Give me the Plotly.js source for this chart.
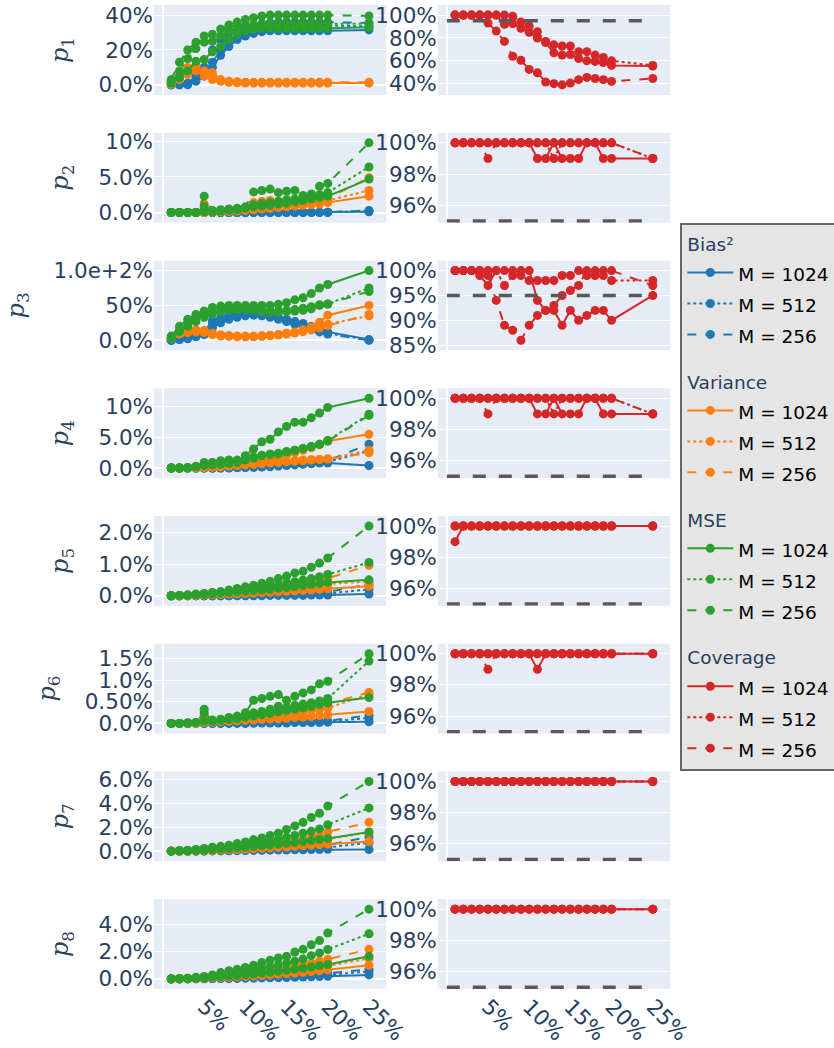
<!DOCTYPE html>
<html>
<head>
<meta charset="utf-8">
<script src="https://cdn.plot.ly/plotly-3.0.1.min.js"></script>
<style>html,body{margin:0;padding:0;background:#fff}</style>
</head>
<body>
<div id="chart" style="width:834px;height:1048px"></div>
<script>
// Share of the sample (x axis), shared by every panel
const share = [0.01,0.02,0.03,0.04,0.05,0.06,0.07,0.08,0.09,0.10,0.11,0.12,0.13,0.14,0.15,0.16,0.17,0.18,0.19,0.20,0.25];
const mLabels = ['M = 1024', 'M = 512', 'M = 256'];

// Each block: rows are M = 1024, 512, 256; values in percent
const p1_bias = [
  [0,0,0,2,5,10,17,22,26,28,29.5,30.5,31,31,31,31,31,31,31,31,31.5],
  [0,0,0.5,3,8,13,20,25,28,30.5,32,33,33.5,33.8,34,34,34,34,34,34,33.5],
  [0,0,1,5,10,20,26,30,32,33.5,34.5,35,35.5,35.8,36,36,36,36,36,36,35.5]];
const p1_var = [
  [0.5,3,6,8,5,3,2,1.5,1.2,1,1,1,1,1,1,1,1,1,1,1,1],
  [0.5,4,8,9,7,5,2.5,1.8,1.5,1.3,1.2,1.2,1.2,1.2,1.2,1.2,1.2,1.2,1.2,1.2,1.2],
  [1,5,10,11,8,7,3,2,1.7,1.5,1.5,1.5,1.5,1.5,1.5,1.5,1.5,1.5,1.5,1.5,1.5]];
const p1_mse = [
  [1,4,8,13.5,14.5,19,22,26,29,31,32,32.5,32.5,32.5,32.5,32.5,32.5,32.5,32.5,32.5,33],
  [2,8,15,20.8,24.5,25,28,31,33,34,34.5,35,35.2,35.3,35.3,35.3,35.3,35.3,35.3,35.3,35],
  [3,13,20,24.5,28,29,32,34.3,36,37.5,38.5,39.5,40,40,40,40,40,40,40,40,39.5]];
const p1_cov = [
  [100,100,100,100,100,100,92,92.5,88.5,85,80,76,67,65,65.5,62,60,59.5,58.5,56,55.5],
  [100,100,100,100,100,100,100,99,94,90.5,85.5,77,74,73,73,68,68,65,63,60,56],
  [100,100,100,100,93,86,77,64,60.5,52.5,49.5,41.5,40,39,40.5,43.5,45.5,44.5,43.5,42,44.5]];

const p2_bias = [
  [0,0,0,0,0,0,0,0,0,0,0,0,0,0,0,0,0,0,0,0,0.1],
  [0,0,0,0,0,0,0,0,0,0,0,0,0,0,0,0,0.02,0.03,0.04,0.05,0.2],
  [0,0,0,0,0.05,0,0,0,0,0,0.05,0.05,0.05,0.05,0.05,0.05,0.05,0.05,0.05,0.05,0.3]];
const p2_var = [
  [0,0,0,0,0,0.05,0.1,0.15,0.2,0.3,0.4,0.5,0.6,0.7,0.8,0.9,1.0,1.1,1.2,1.4,2.3],
  [0,0,0,0,0.2,0.1,0.15,0.2,0.3,0.4,0.6,0.7,0.8,0.9,1.0,1.1,1.3,1.4,1.5,1.7,3.1],
  [0,0,0,0,1.2,0.1,0.2,0.3,0.4,0.5,1.4,1.6,1.7,1.3,1.5,1.6,1.4,1.5,1.9,2.0,4.9]];
const p2_mse = [
  [0,0,0,0,0.1,0.15,0.2,0.3,0.4,0.6,0.8,0.9,1.0,1.2,1.3,1.5,1.7,1.9,2.1,2.3,4.7],
  [0,0,0,0,0.9,0.2,0.3,0.4,0.5,0.7,1.1,1.3,1.4,1.6,1.8,1.9,2.0,2.2,2.5,2.8,6.4],
  [0,0,0,0,2.3,0.3,0.4,0.5,0.6,0.8,2.9,3.1,3.3,2.8,3.0,3.1,2.4,2.6,3.7,4.1,9.8]];
const p2_cov = [
  [100,100,100,100,100,100,100,100,100,100,99,99,100,99,99,99,100,100,99,99,99],
  [100,100,100,100,100,100,100,100,100,100,100,100,99,100,100,100,100,100,100,100,99],
  [100,100,100,100,99,100,100,100,100,100,100,100,100,100,100,100,100,100,100,100,99]];

const p3_bias = [
  [0,1,2,5,8,18,25,30,33,35,36,36,35,33,30,27,24,20,16,12,1],
  [0,1,3,6,10,25,30,35,37,38,38.5,37,35,32,28,25,22,18,14,10,0.5],
  [0,2,4,8,12,28,32,37,38,38,37,35,33,30,27,23,20,15,12,9,0]];
const p3_var = [
  [4,12,14,15,14,10,8,7,6,6,6,6.5,7,8,10,12,15,19,26,36,50],
  [3,10,12,13,12,9,7,6,5.5,5.5,5.5,6,7,8,9.5,11,13,16,19,23,35],
  [3,9,11,12,11,8,6,5.5,5,5,5,5.5,6.5,7.5,9,10.5,12.5,15,18,21,37]];
const p3_mse = [
  [6,20,30,37,42,47,49,50,50,50,50,50,50,51.5,54,58,61,67,75,80,100],
  [4,15,25,33,38,41,44,45,45,45,44,43,42,42,43,44,46,48,51,52,75],
  [3,12,20,27,33,38,41,43,44,44,43,41,40,40,41,42,43,45,50,52,70]];
const p3_cov = [
  [100,100,100,99,97,100,100,100,100,100,94,92,92,89,92,90,91,92,92,90,95],
  [100,100,100,100,100,100,97,99,99,98,98,98,98,99,99,100,99,99,99,98,98],
  [100,100,100,100,99,94,89,88,86,89,91,92,93,95,96,97,100,100,100,100,97]];

const p4_bias = [
  [0,0,0,0,0,0,0,0,0.05,0.1,0.1,0.15,0.2,0.3,0.4,0.5,0.6,0.7,0.8,0.8,0.4],
  [0,0,0,0,0,0,0.02,0.05,0.08,0.1,0.15,0.2,0.3,0.4,0.5,0.6,0.7,0.8,0.9,1.0,2.8],
  [0,0,0,0,0,0,0.03,0.05,0.1,0.15,0.2,0.3,0.4,0.5,0.6,0.7,0.8,0.9,1.0,1.2,3.9]];
const p4_var = [
  [0,0,0.02,0.05,0.1,0.15,0.25,0.35,0.5,0.7,0.9,1.1,1.4,1.7,2.1,2.5,2.9,3.3,3.8,4.4,5.5],
  [0,0,0.02,0.05,0.1,0.15,0.2,0.3,0.4,0.5,0.6,0.7,0.8,0.9,1.0,1.1,1.2,1.3,1.4,1.5,2.9],
  [0,0,0.02,0.05,0.1,0.15,0.2,0.3,0.4,0.5,0.65,0.8,0.9,1.0,1.1,1.2,1.3,1.35,1.4,1.45,2.5]];
const p4_mse = [
  [0,0,0.05,0.2,0.4,0.5,0.6,0.7,0.9,2.0,3.1,4.3,4.7,5.9,6.8,7.5,7.5,8.2,9.0,9.9,11.4],
  [0,0,0.05,0.2,0.5,0.8,0.9,1.0,1.0,1.3,1.6,2.1,2.3,2.3,2.7,2.9,3.2,3.5,3.9,4.5,8.8],
  [0,0,0.05,0.3,0.9,0.9,1.2,1.3,1.3,1.5,1.8,2.0,2.2,2.4,2.6,2.9,3.2,3.5,3.9,4.4,8.6]];
const p4_cov = [
  [100,100,100,100,100,100,100,100,100,100,99,99,100,99,99,99,100,100,99,99,99],
  [100,100,100,100,100,100,100,100,100,100,100,100,99,100,100,100,100,100,100,100,99],
  [100,100,100,100,99,100,100,100,100,100,100,100,100,100,100,100,100,100,100,100,99]];

const p5_bias = [
  [0,0,0,0,0,0,0,0,0,0,0,0,0.01,0.01,0.01,0.01,0.01,0.02,0.02,0.02,0.05],
  [0,0,0,0,0,0,0,0,0.01,0.01,0.01,0.02,0.02,0.03,0.03,0.04,0.05,0.05,0.06,0.07,0.2],
  [0,0,0,0,0,0,0.01,0.01,0.01,0.02,0.02,0.03,0.04,0.05,0.06,0.07,0.08,0.09,0.1,0.12,0.36]];
const p5_var = [
  [0,0,0,0.01,0.02,0.03,0.04,0.05,0.06,0.07,0.08,0.1,0.11,0.12,0.14,0.15,0.17,0.18,0.2,0.22,0.3],
  [0,0,0.01,0.02,0.03,0.04,0.05,0.07,0.09,0.11,0.13,0.15,0.17,0.2,0.22,0.25,0.28,0.31,0.34,0.37,0.45],
  [0,0,0.01,0.02,0.03,0.05,0.07,0.09,0.12,0.15,0.18,0.21,0.25,0.28,0.32,0.36,0.4,0.45,0.5,0.55,0.96]];
const p5_mse = [
  [0,0.01,0.02,0.03,0.04,0.06,0.08,0.1,0.12,0.14,0.16,0.18,0.2,0.23,0.26,0.29,0.32,0.35,0.38,0.42,0.5],
  [0,0.01,0.02,0.04,0.06,0.08,0.1,0.13,0.16,0.2,0.23,0.27,0.31,0.35,0.4,0.44,0.49,0.54,0.6,0.67,1.05],
  [0,0.01,0.02,0.05,0.07,0.1,0.13,0.18,0.23,0.28,0.33,0.39,0.46,0.54,0.62,0.72,0.77,0.9,1.03,1.19,2.2]];
const p5_cov = [
  [99,100,100,100,100,100,100,100,100,100,100,100,100,100,100,100,100,100,100,100,100],
  [100,100,100,100,100,100,100,100,100,100,100,100,100,100,100,100,100,100,100,100,100],
  [100,100,100,100,100,100,100,100,100,100,100,100,100,100,100,100,100,100,100,100,100]];

const p6_bias = [
  [0,0,0,0,0,0,0,0,0,0,0.01,0.01,0.01,0.01,0.01,0.02,0.02,0.02,0.02,0.03,0.04],
  [0,0,0,0,0,0,0,0.01,0.01,0.01,0.01,0.02,0.02,0.02,0.03,0.03,0.03,0.04,0.04,0.04,0.13],
  [0,0,0,0,0,0.01,0.01,0.01,0.02,0.02,0.02,0.03,0.03,0.03,0.04,0.04,0.05,0.05,0.05,0.06,0.19]];
const p6_var = [
  [0,0,0,0.01,0.02,0.03,0.04,0.05,0.06,0.07,0.08,0.09,0.1,0.11,0.12,0.14,0.15,0.16,0.18,0.2,0.28],
  [0,0,0,0.01,0.1,0.03,0.05,0.06,0.08,0.1,0.13,0.15,0.17,0.2,0.22,0.24,0.27,0.3,0.33,0.36,0.68],
  [0,0,0,0.01,0.19,0.04,0.06,0.08,0.1,0.13,0.22,0.25,0.27,0.3,0.28,0.32,0.35,0.38,0.42,0.46,0.72]];
const p6_mse = [
  [0,0,0.01,0.02,0.05,0.05,0.07,0.09,0.11,0.14,0.17,0.2,0.23,0.27,0.3,0.33,0.36,0.4,0.44,0.48,0.6],
  [0,0,0.01,0.02,0.25,0.06,0.08,0.1,0.13,0.17,0.25,0.28,0.33,0.4,0.37,0.42,0.45,0.48,0.52,0.58,1.45],
  [0,0,0.01,0.02,0.33,0.08,0.1,0.14,0.17,0.25,0.54,0.58,0.63,0.67,0.54,0.63,0.71,0.78,0.92,0.98,1.62]];
const p6_cov = [
  [100,100,100,100,100,100,100,100,100,100,99,100,100,100,100,100,100,100,100,100,100],
  [100,100,100,100,100,100,100,100,100,100,100,100,100,100,100,100,100,100,100,100,100],
  [100,100,100,100,99,100,100,100,100,100,100,100,100,100,100,100,100,100,100,100,100]];

const p7_bias = [
  [0,0,0,0.01,0.01,0.02,0.02,0.03,0.04,0.05,0.06,0.07,0.08,0.09,0.1,0.11,0.12,0.13,0.14,0.15,0.14],
  [0,0,0.01,0.01,0.02,0.03,0.04,0.05,0.06,0.08,0.1,0.12,0.14,0.16,0.18,0.2,0.23,0.26,0.29,0.32,0.7],
  [0,0,0.01,0.02,0.03,0.04,0.05,0.07,0.09,0.11,0.13,0.16,0.19,0.22,0.26,0.3,0.34,0.38,0.42,0.5,1.2]];
const p7_var = [
  [0,0.01,0.02,0.03,0.05,0.07,0.09,0.11,0.14,0.17,0.2,0.23,0.27,0.31,0.35,0.4,0.45,0.5,0.55,0.6,0.8],
  [0,0.01,0.03,0.05,0.07,0.1,0.13,0.16,0.2,0.24,0.29,0.34,0.4,0.46,0.53,0.6,0.68,0.76,0.85,1.0,1.55],
  [0,0.02,0.04,0.07,0.1,0.14,0.18,0.23,0.29,0.35,0.42,0.5,0.58,0.67,0.77,0.88,1.0,1.15,1.3,1.6,2.4]];
const p7_mse = [
  [0,0.02,0.04,0.07,0.1,0.14,0.18,0.22,0.27,0.32,0.38,0.44,0.5,0.57,0.65,0.72,0.8,0.88,0.97,1.06,1.6],
  [0,0.03,0.06,0.1,0.16,0.22,0.28,0.35,0.43,0.52,0.62,0.73,0.85,1.0,1.15,1.3,1.5,1.65,1.85,2.2,3.6],
  [0,0.04,0.08,0.14,0.22,0.33,0.4,0.5,0.63,0.77,0.96,1.1,1.3,1.5,1.8,2.1,2.4,2.8,3.15,3.75,5.8]];
const p7_cov = [
  [100,100,100,100,100,100,100,100,100,100,100,100,100,100,100,100,100,100,100,100,100],
  [100,100,100,100,100,100,100,100,100,100,100,100,100,100,100,100,100,100,100,100,100],
  [100,100,100,100,100,100,100,100,100,100,100,100,100,100,100,100,100,100,100,100,100]];

const p8_bias = [
  [0,0,0,0.01,0.01,0.02,0.02,0.03,0.04,0.05,0.06,0.07,0.08,0.09,0.1,0.12,0.13,0.15,0.17,0.19,0.29],
  [0,0,0.01,0.01,0.02,0.03,0.04,0.05,0.06,0.07,0.08,0.1,0.12,0.14,0.16,0.18,0.2,0.23,0.26,0.3,0.53],
  [0,0,0.01,0.02,0.03,0.04,0.05,0.06,0.08,0.1,0.12,0.14,0.16,0.19,0.22,0.25,0.28,0.31,0.35,0.4,0.7]];
const p8_var = [
  [0,0.01,0.02,0.03,0.05,0.07,0.09,0.12,0.15,0.18,0.21,0.25,0.29,0.33,0.38,0.43,0.48,0.54,0.6,0.66,1.0],
  [0,0.01,0.02,0.04,0.06,0.09,0.12,0.16,0.2,0.25,0.3,0.35,0.41,0.47,0.54,0.61,0.69,0.77,0.86,0.95,1.5],
  [0,0.01,0.03,0.06,0.09,0.13,0.18,0.24,0.3,0.37,0.45,0.53,0.62,0.71,0.81,0.92,1.03,1.15,1.3,1.44,2.16]];
const p8_mse = [
  [0,0.01,0.03,0.05,0.08,0.12,0.16,0.2,0.25,0.3,0.36,0.42,0.48,0.55,0.62,0.7,0.78,0.87,0.96,1.05,1.65],
  [0,0.02,0.04,0.08,0.12,0.2,0.3,0.38,0.46,0.56,0.67,0.78,0.9,1.02,1.15,1.3,1.45,1.7,1.9,2.15,3.3],
  [0,0.02,0.05,0.12,0.17,0.29,0.46,0.6,0.7,0.84,1.0,1.2,1.37,1.53,1.65,1.97,2.16,2.5,2.8,3.36,5.1]];
const p8_cov = [
  [100,100,100,100,100,100,100,100,100,100,100,100,100,100,100,100,100,100,100,100,100],
  [100,100,100,100,100,100,100,100,100,100,100,100,100,100,100,100,100,100,100,100,100],
  [100,100,100,100,100,100,100,100,100,100,100,100,100,100,100,100,100,100,100,100,100]];

const nominalCoverage = 95;   // target level, drawn as a dashed reference line

// Lookup table: per parameter, the blocks in drawing order
const panels = [
  [p1_bias, p1_var, p1_mse, p1_cov],
  [p2_bias, p2_var, p2_mse, p2_cov],
  [p3_bias, p3_var, p3_mse, p3_cov],
  [p4_bias, p4_var, p4_mse, p4_cov],
  [p5_bias, p5_var, p5_mse, p5_cov],
  [p6_bias, p6_var, p6_mse, p6_cov],
  [p7_bias, p7_var, p7_mse, p7_cov],
  [p8_bias, p8_var, p8_mse, p8_cov]
];
const metrics = [
  {group: 'bias', title: 'Bias²', color: '#1f77b4'},
  {group: 'variance', title: 'Variance', color: '#ff7f0e'},
  {group: 'mse', title: 'MSE', color: '#2ca02c'},
  {group: 'coverage', title: 'Coverage', color: '#d62728'}
];
const dashes = ['solid', 'dot', 'dash'];

const SANS = 'DejaVu Sans, Verdana, sans-serif';
const TICK_FONT = {family: SANS, size: 21.5, color: '#2a3f5f'};
const BG = '#E5ECF6';

const nRows = 8;
const hGap = 0.0384;
const rowH = (1 - hGap * (nRows - 1)) / nRows;

const traces = [];
const layout = {
  width: 834, height: 1048,
  margin: {l: 154, r: 164, t: 5, b: 59, pad: 0, autoexpand: false},
  paper_bgcolor: '#fff',
  plot_bgcolor: BG,
  font: {family: SANS, size: 18, color: '#2a3f5f'},
  showlegend: true,
  legend: {
    x: 1.02, xanchor: 'left', y: 0.5, yanchor: 'middle',
    bgcolor: '#e5e5e5', bordercolor: '#666', borderwidth: 2,
    font: {family: SANS, size: 21.5, color: '#000'},
    itemwidth: 46,
    tracegroupgap: 18
  },
  shapes: []
};

for (let r = 0; r < nRows; r++) {
  const top = 1 - r * (rowH + hGap);
  const dom = [top - rowH, top];
  const li = 2 * r + 1, ri = 2 * r + 2;
  const isLast = r === nRows - 1;
  const xBase = {
    showgrid: false, zeroline: true, zerolinecolor: '#fff', zerolinewidth: 2,
    showline: false, ticks: '', automargin: false,
    showticklabels: isLast,
    tickvals: [0.05, 0.10, 0.15, 0.20, 0.25], tickformat: '.0%', tickangle: 45,
    tickfont: TICK_FONT
  };
  const yBase = {
    domain: dom, showgrid: true, gridcolor: '#fff', gridwidth: 1,
    zeroline: true, zerolinecolor: '#fff', zerolinewidth: 2,
    showline: false, ticks: '', tickfont: TICK_FONT
  };
  layout['xaxis' + li] = Object.assign({domain: [0, 0.45], anchor: 'y' + li}, xBase);
  layout['xaxis' + ri] = Object.assign({domain: [0.55, 1], anchor: 'y' + ri}, xBase);
  layout['yaxis' + li] = Object.assign({anchor: 'x' + li, tickformat: '.2g', ticksuffix: '%',
    automargin: true,
    title: {text: '<i>p</i><sub>' + (r + 1) + '</sub>', standoff: 22,
            font: {family: 'DejaVu Serif, serif', size: 24, color: '#2a3f5f'}}}, yBase);
  layout['yaxis' + ri] = Object.assign({anchor: 'x' + ri, tickformat: '.0f', ticksuffix: '%',
    automargin: false}, yBase);

  metrics.forEach((m, k) => {
    const block = panels[r][k];
    const onRight = k === 3;
    block.forEach((vals, j) => {
      traces.push({
        type: 'scatter', mode: 'lines+markers',
        x: share, y: vals,
        xaxis: 'x' + (onRight ? ri : li), yaxis: 'y' + (onRight ? ri : li),
        name: '<span style="font-size:18.5px">' + mLabels[j] + '</span>',
        legendgroup: m.group,
        legendgrouptitle: {text: m.title, font: {family: SANS, size: 18.5, color: '#2a3f5f'}},
        showlegend: r === 0,
        line: {color: m.color, width: 2, dash: dashes[j]},
        marker: {color: m.color, size: 9},
        hoverinfo: 'skip'
      });
    });
  });

  layout.shapes.push({
    type: 'line', xref: 'x' + ri, yref: 'y' + ri,
    x0: 0, x1: 0.25, y0: nominalCoverage, y1: nominalCoverage,
    line: {color: '#595959', width: 3.5, dash: '13px,13px'}
  });
}

Plotly.newPlot('chart', traces, layout, {displayModeBar: false, staticPlot: true});
</script>
</body>
</html>
